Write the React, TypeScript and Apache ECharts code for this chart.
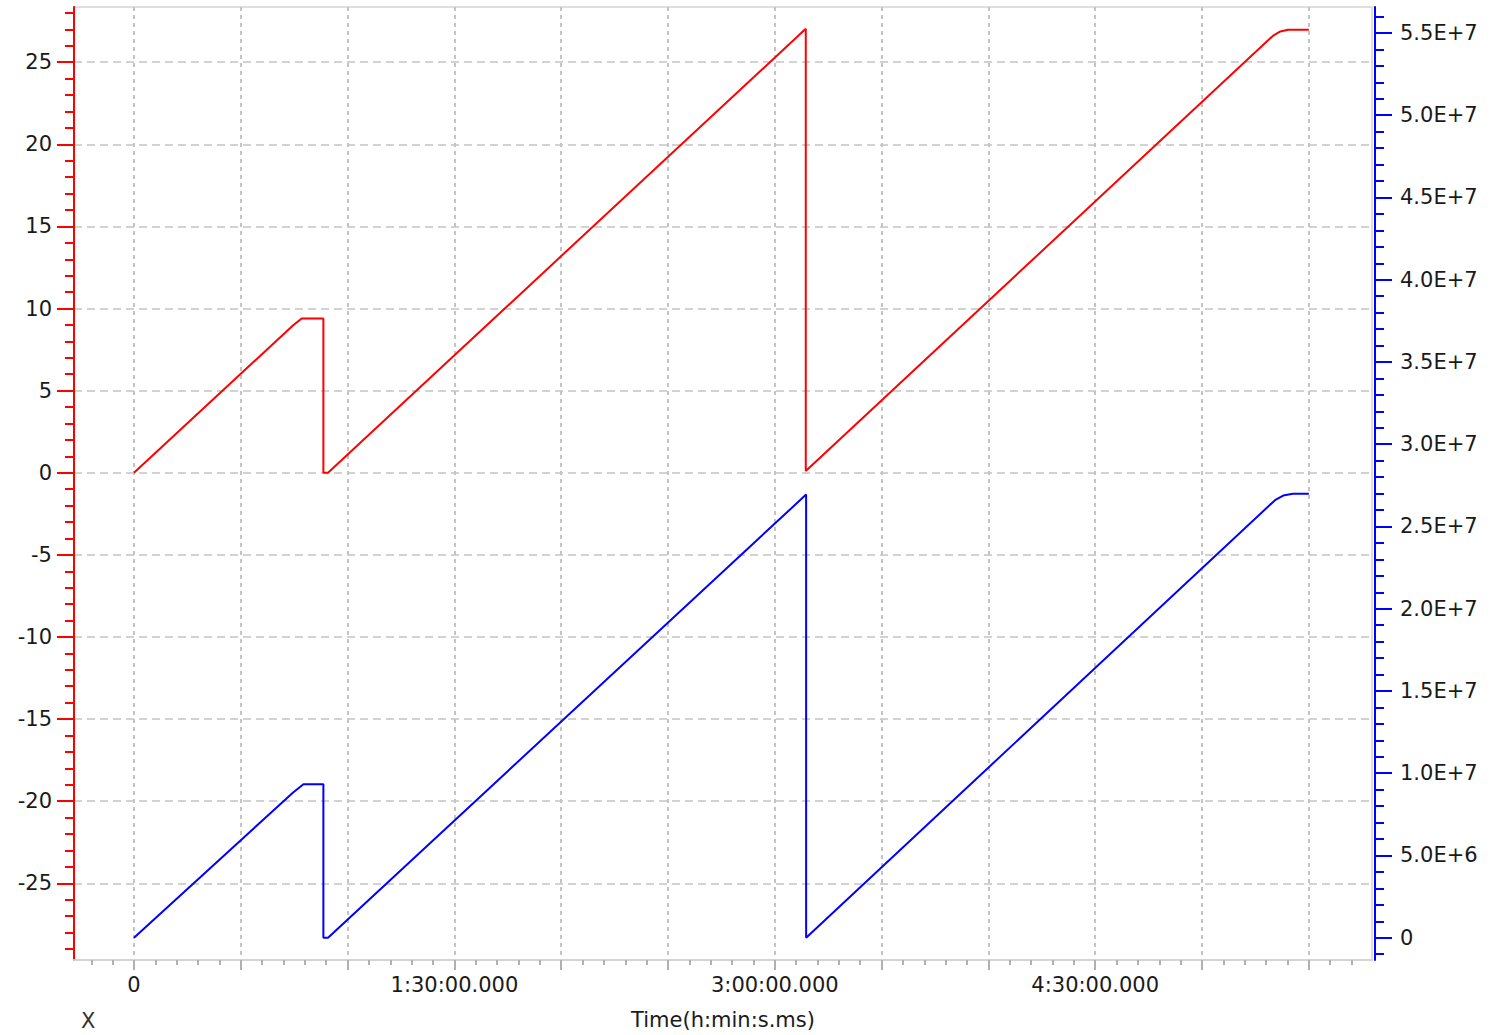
import React, { useEffect, useRef } from "react";
import * as echarts from "echarts";

// Time in minutes from start
const redTimes = [0, 44.8, 47.1, 53.2, 53.2, 54.5, 188.7, 188.7, 319.9, 322.0, 324.2, 330];
const redValues = [0, 9.0, 9.39, 9.39, 0, 0, 27.03, 0.1, 26.6, 26.87, 26.97, 26.97];

const blueTimes = [0, 44.7, 47.6, 53.2, 53.2, 54.5, 188.8, 188.8, 320.5, 322.8, 325.5, 330];
const blueValues = [0, 8.83e6, 9.33e6, 9.33e6, 0, 0, 26.94e6, 0, 26.6e6, 26.88e6, 26.99e6, 26.99e6];

// Tick values
const xTickValues = [0, 30, 60, 90, 120, 150, 180, 210, 240, 270, 300, 330];
const xLabelValues = [0, 90, 180, 270];
const leftTickValues = [-25, -20, -15, -10, -5, 0, 5, 10, 15, 20, 25];
const rightTickValues = [0, 5e6, 10e6, 15e6, 20e6, 25e6, 30e6, 35e6, 40e6, 45e6, 50e6, 55e6];

const xName = "Time(h:min:s.ms)";
const cornerLabel = "X";

const FONT = "DejaVu Sans";
const FS = 21;

function fmtTime(v: number): string {
  if (Math.abs(v) < 1e-9) return "0";
  const h = Math.floor(v / 60);
  const m = Math.round(v - h * 60);
  return `${h}:${String(m).padStart(2, "0")}:00.000`;
}

export default function App() {
  const ref = useRef<HTMLDivElement>(null);
  useEffect(() => {
    document.body.style.margin = "0";
    const chart = echarts.init(ref.current!, null, { renderer: "svg" });
    const gridL = 74, gridR = 133, gridT = 7, gridB = 74;
    const option: any = {
      animation: false,
      backgroundColor: "#ffffff",
      grid: {
        left: gridL, right: gridR, top: gridT, bottom: gridB,
        show: true, borderColor: "#dedede", borderWidth: 2, backgroundColor: "transparent",
      },
      graphic: [
        {
          type: "text", left: 81, top: 1010,
          style: { text: cornerLabel, fontSize: FS, fontFamily: FONT, fill: "#333" },
        },
      ],
      xAxis: {
        type: "value",
        min: -16.85,
        max: 347.75,
        splitNumber: 12,
        name: xName,
        nameLocation: "middle",
        nameGap: 49,
        nameTextStyle: { fontSize: FS, fontFamily: FONT, color: "#1a1a1a" },
        axisLine: { show: true, onZero: false, lineStyle: { color: "#d4d4d4", width: 2 } },
        axisTick: { show: true, customValues: xTickValues, length: 10, lineStyle: { color: "#b0b0b0", width: 2 } },
        minorTick: { show: true, splitNumber: 5, length: 5, lineStyle: { color: "#b0b0b0", width: 2 } },
        axisLabel: {
          show: true, customValues: xLabelValues, margin: 14, fontSize: FS, fontFamily: FONT, color: "#1a1a1a",
          showMinLabel: true, showMaxLabel: true,
          formatter: (v: number) => fmtTime(v),
        },
        splitLine: { show: true, lineStyle: { color: "#c4c4c4", width: 2, type: [4, 4] } },
      },
      yAxis: [
        {
          type: "value",
          position: "left",
          min: -29.67,
          max: 28.36,
          splitNumber: 12,
          axisLine: { show: true, onZero: false, lineStyle: { color: "#ff0000", width: 2 } },
          axisTick: { show: true, customValues: leftTickValues, length: 17, lineStyle: { color: "#ff0000", width: 2 } },
          minorTick: { show: true, splitNumber: 5, length: 9, lineStyle: { color: "#ff0000", width: 2 } },
          axisLabel: {
            customValues: leftTickValues,
            margin: 22, fontSize: FS, fontFamily: FONT, color: "#1a1a1a",
          },
          splitLine: { show: true, lineStyle: { color: "#c4c4c4", width: 1.5, type: [8, 5] } },
        },
        {
          type: "value",
          position: "right",
          offset: 3,
          min: -1.354e6,
          max: 56.58e6,
          splitNumber: 12,
          axisLine: { show: true, onZero: false, lineStyle: { color: "#0000ff", width: 2 } },
          axisTick: { show: true, customValues: rightTickValues, length: 17, lineStyle: { color: "#0000ff", width: 2 } },
          minorTick: { show: true, splitNumber: 5, length: 9, lineStyle: { color: "#0000ff", width: 2 } },
          axisLabel: {
            customValues: rightTickValues,
            margin: 25, fontSize: FS, fontFamily: FONT, color: "#1a1a1a",
            formatter: (v: number) => (v === 0 ? "0" : v.toExponential(1).toUpperCase()),
          },
          splitLine: { show: false },
        },
      ],
      series: [
        {
          type: "line",
          yAxisIndex: 0,
          data: redTimes.map((t, i) => [t, redValues[i]]),
          showSymbol: false,
          symbol: "none",
          lineStyle: { color: "#ff0000", width: 2 },
          itemStyle: { color: "#ff0000" },
        },
        {
          type: "line",
          yAxisIndex: 1,
          data: blueTimes.map((t, i) => [t, blueValues[i]]),
          showSymbol: false,
          symbol: "none",
          lineStyle: { color: "#0000ff", width: 2 },
          itemStyle: { color: "#0000ff" },
        },
      ],
    };
    chart.setOption(option);
    return () => chart.dispose();
  }, []);
  return <div ref={ref} style={{ width: 1505, height: 1035 }} />;
}
